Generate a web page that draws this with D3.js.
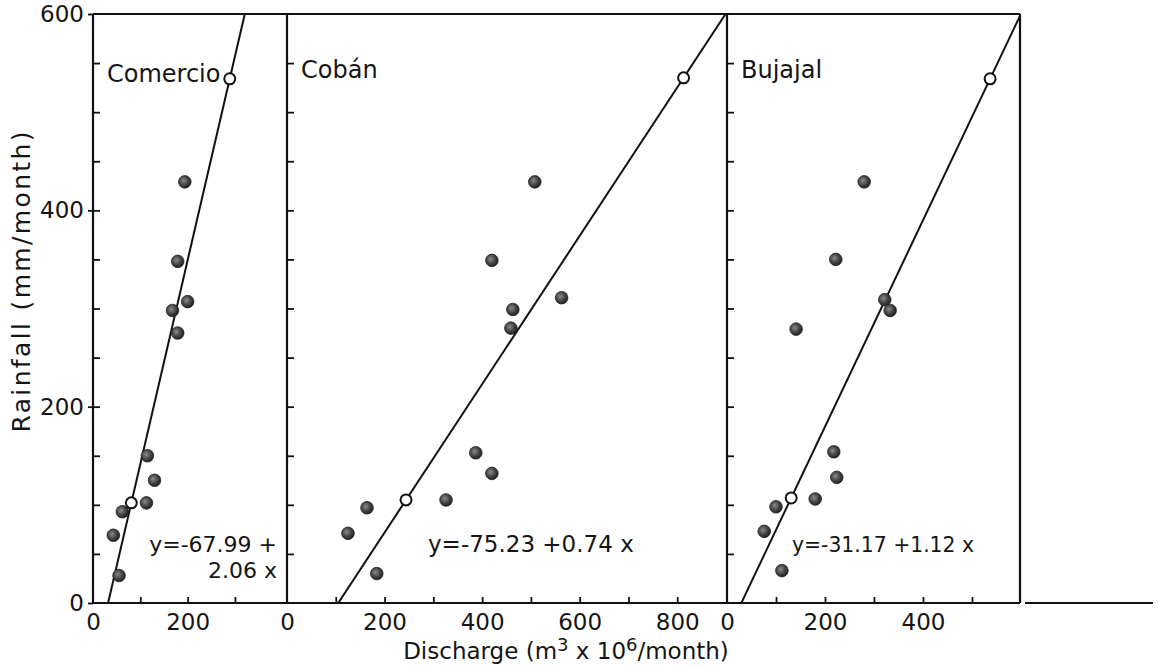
<!DOCTYPE html>
<html>
<head>
<meta charset="utf-8">
<script src="https://cdn.jsdelivr.net/npm/d3@7"></script>
<style>
  body { margin: 0; background: #fff; }
  svg text { font-family: "DejaVu Sans", sans-serif; fill: #151515; }
</style>
</head>
<body>
<script>
const config = {
  width: 1159,
  height: 667
};

// Station names and the regression text written in each panel
const stations = ["Comercio", "Cobán", "Bujajal"];
const equations = [["y=-67.99 +", "2.06 x"], ["y=-75.23 +0.74 x"], ["y=-31.17 +1.12 x"]];

// Comercio: discharge (m3 x 10^6/month) vs rainfall (mm/month)
const comercioDischarge = [194, 179, 200, 168, 179, 115, 130, 113, 62, 43, 55];
const comercioRainfall = [429, 348, 307, 298, 275, 150, 125, 102, 93, 69, 28];
const comercioFit = [[81, 102], [289, 534]]; // open circles on the fitted line

// Cobán
const cobanDischarge = [508, 420, 563, 463, 459, 387, 420, 326, 164, 125, 184];
const cobanRainfall = [429, 349, 311, 299, 280, 153, 132, 105, 97, 71, 30];
const cobanFit = [[244, 105], [813, 535]];

// Bujajal
const bujajalDischarge = [280, 222, 322, 333, 141, 218, 224, 180, 100, 76, 112];
const bujajalRainfall = [429, 350, 309, 298, 279, 154, 128, 106, 98, 73, 33];
const bujajalFit = [[131, 107], [537, 534]];

// Axis ticks
const rainTicks = [0, 200, 400, 600];
const rainMinorTicks = d3.range(50, 600, 50);
const xMax = [410, 902, 598];
const xLabelTicks = [[0, 200], [0, 200, 400, 600, 800], [0, 200, 400]];
const xMinorTicks = [[100, 200, 300], [100, 200, 300, 400, 500, 600, 700, 800], [100, 200, 300, 400, 500]];

const discharge = [comercioDischarge, cobanDischarge, bujajalDischarge];
const rainfall = [comercioRainfall, cobanRainfall, bujajalRainfall];
const fits = [comercioFit, cobanFit, bujajalFit];

// panel borders in pixels
const edges = [93, 287, 727, 1020];

const svg = d3
  .select("body")
  .append("svg")
  .attr("width", config.width)
  .attr("height", config.height);

const defs = svg.append("defs");
const grad = defs.append("radialGradient").attr("id", "ball")
  .attr("cx", "40%").attr("cy", "40%").attr("r", "65%");
grad.append("stop").attr("offset", "0%").attr("stop-color", "#8a8a8a");
grad.append("stop").attr("offset", "55%").attr("stop-color", "#444");
grad.append("stop").attr("offset", "100%").attr("stop-color", "#1c1c1c");

const y = d3.scaleLinear().domain([0, 600]).range([603, 14]);

stations.forEach((name, i) => {
  const x = d3.scaleLinear().domain([0, xMax[i]]).range([edges[i], edges[i + 1]]);
  const g = svg.append("g");

  defs.append("clipPath").attr("id", "clip" + i)
    .append("rect")
    .attr("x", edges[i]).attr("y", y(600))
    .attr("width", edges[i + 1] - edges[i]).attr("height", y(0) - y(600));

  // inward rainfall ticks on the panel's left edge
  g.append("g")
    .attr("transform", `translate(${edges[i]},0)`)
    .call(d3.axisRight(y).tickValues(rainMinorTicks).tickSize(7).tickFormat(""))
    .call(a => a.select(".domain").remove())
    .selectAll("line").attr("stroke", "#111").attr("stroke-width", 1.8);

  // inward discharge ticks
  g.append("g")
    .attr("transform", `translate(0,${y(0)})`)
    .call(d3.axisTop(x).tickValues(xMinorTicks[i]).tickSize(6).tickFormat(""))
    .call(a => a.select(".domain").remove())
    .selectAll("line").attr("stroke", "#111").attr("stroke-width", 1.8);

  // discharge tick labels
  g.append("g")
    .attr("transform", `translate(0,${y(0)})`)
    .call(d3.axisBottom(x).tickValues(xLabelTicks[i]).tickSize(0).tickPadding(11))
    .call(a => a.select(".domain").remove())
    .selectAll("text")
    .attr("font-size", 23)
    .attr("font-family", "DejaVu Sans")
    .attr("fill", "#151515");

  // fitted line, drawn through the open circles from 0 to 600 mm
  const [p1, p2] = fits[i];
  const slope = (p2[1] - p1[1]) / (p2[0] - p1[0]);
  const icept = p1[1] - slope * p1[0];
  g.append("line")
    .attr("clip-path", `url(#clip${i})`)
    .attr("x1", x((0 - icept) / slope)).attr("y1", y(0))
    .attr("x2", x((600 - icept) / slope)).attr("y2", y(600))
    .attr("stroke", "#111").attr("stroke-width", 2);

  // observed months
  g.append("g")
    .selectAll("circle")
    .data(discharge[i].map((d, k) => [d, rainfall[i][k]]))
    .enter()
    .append("circle")
    .attr("cx", d => x(d[0]))
    .attr("cy", d => y(d[1]))
    .attr("r", 6.3)
    .attr("fill", "url(#ball)")
    .attr("stroke", "#222")
    .attr("stroke-width", 0.8);

  // open circles on the line
  g.append("g")
    .selectAll("circle")
    .data(fits[i])
    .enter()
    .append("circle")
    .attr("cx", d => x(d[0]))
    .attr("cy", d => y(d[1]))
    .attr("r", 5.5)
    .attr("fill", "#fff")
    .attr("stroke", "#111")
    .attr("stroke-width", 2);

  // station name
  g.append("text")
    .text(name)
    .attr("x", edges[i] + 14)
    .attr("y", i === 0 ? 82 : 78)
    .attr("font-size", 24);

  // equation
  const eq = g.append("text");
  if (i === 0) {
    eq.attr("text-anchor", "end").attr("font-size", 22);
    eq.append("tspan").attr("x", 277).attr("y", 552).text(equations[i][0]);
    eq.append("tspan").attr("x", 277).attr("y", 578).text(equations[i][1]);
  } else if (i === 1) {
    eq.attr("x", 428).attr("y", 552).attr("font-size", 23).text(equations[i][0]);
  } else {
    eq.attr("x", 792).attr("y", 552).attr("font-size", 22)
      .attr("textLength", 182)
      .attr("lengthAdjust", "spacingAndGlyphs")
      .text(equations[i][0]);
  }
});

// frame: top, bottom and panel borders
const frame = svg.append("g").attr("stroke", "#111").attr("stroke-width", 2.2);
frame.append("line").attr("x1", edges[0]).attr("x2", edges[3]).attr("y1", y(600)).attr("y2", y(600));
frame.append("line").attr("x1", edges[0]).attr("x2", edges[3]).attr("y1", y(0)).attr("y2", y(0));
frame.append("line").attr("x1", 1025).attr("x2", 1153).attr("y1", y(0)).attr("y2", y(0));
edges.forEach(e => {
  frame.append("line").attr("x1", e).attr("x2", e).attr("y1", y(600)).attr("y2", y(0));
});

// rainfall axis labels with short outer ticks
svg.append("g")
  .attr("transform", `translate(${edges[0]},0)`)
  .call(d3.axisLeft(y).tickValues(rainTicks).tickSize(5).tickPadding(4))
  .call(a => a.select(".domain").remove())
  .call(a => a.selectAll("line").attr("stroke", "#111").attr("stroke-width", 1.8))
  .selectAll("text")
  .attr("font-size", 23)
  .attr("font-family", "DejaVu Sans")
  .attr("fill", "#151515");

// axis titles
svg.append("text")
  .text("Rainfall (mm/month)")
  .attr("transform", "translate(30,282) rotate(-90)")
  .attr("text-anchor", "middle")
  .attr("font-size", 25)
  .attr("textLength", 301)
  .attr("lengthAdjust", "spacing");

const xt = svg.append("text")
  .attr("x", 566)
  .attr("y", 659)
  .attr("text-anchor", "middle")
  .attr("font-size", 23);
xt.append("tspan").text("Discharge (m");
xt.append("tspan").attr("dy", -8).attr("font-size", 18).text("3");
xt.append("tspan").attr("dy", 8).text(" x 10");
xt.append("tspan").attr("dy", -8).attr("font-size", 18).text("6");
xt.append("tspan").attr("dy", 8).text("/month)");
</script>
</body>
</html>
